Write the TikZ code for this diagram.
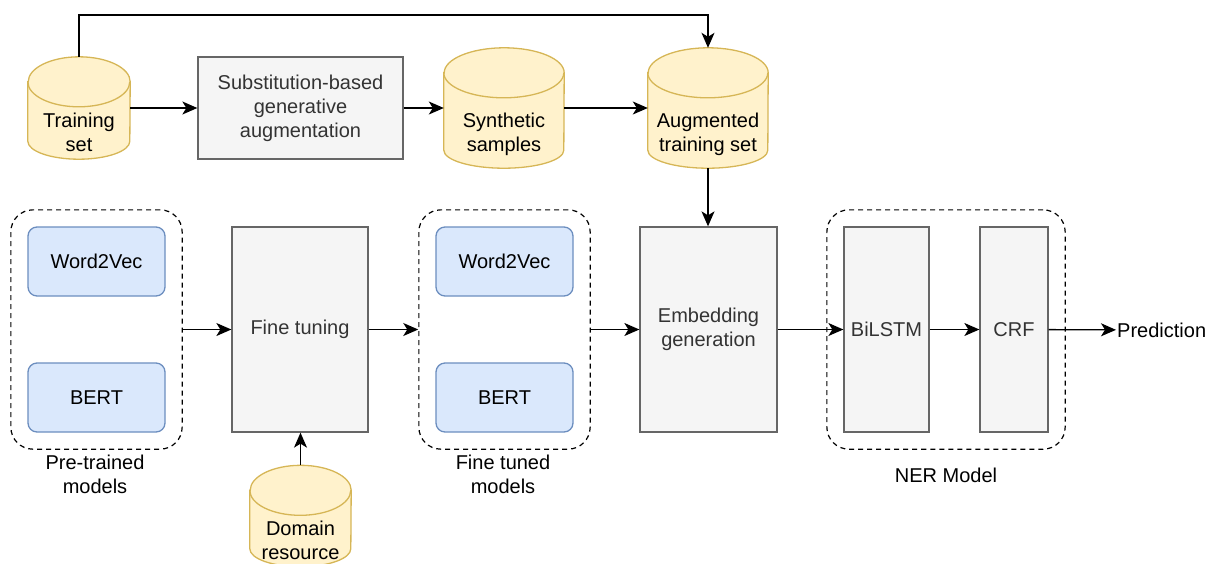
\documentclass[tikz,border=0pt]{standalone}
\usepackage{fontspec}
\setmainfont{Liberation Sans}
\usetikzlibrary{arrows.meta,fit,positioning,backgrounds}

\definecolor{dbfill}{HTML}{FFF2CC}
\definecolor{dbdraw}{HTML}{D6B656}
\definecolor{mdlfill}{HTML}{DAE8FC}
\definecolor{mdldraw}{HTML}{6C8EBF}
\definecolor{stepfill}{HTML}{F5F5F5}
\definecolor{stepdraw}{HTML}{666666}
\definecolor{steptext}{HTML}{333333}

\newcommand\dbtext[1]{\raisebox{-32pt}[0pt][0pt]{\makebox[0pt]{\begin{tabular}{@{}c@{}}#1\end{tabular}}}}

\tikzset{
  db/.style={rectangle,minimum width=#1,minimum height=#1,inner sep=0pt},
  db/.default=102pt,
  dbline/.style={draw=dbdraw,fill=dbfill,line width=1.3pt},
  stepbox/.style={rectangle,draw=stepdraw,fill=stepfill,text=steptext,line width=1.3pt,align=center},
  mdl/.style={rectangle,rounded corners=9pt,draw=mdldraw,fill=mdlfill,line width=1.3pt,
    minimum width=137pt,minimum height=69pt},
  grp/.style={rectangle,draw,line width=1.2pt,dash pattern=on 5pt off 4pt,rounded corners=22pt,inner sep=16.5pt},
  arr/.style={-{Stealth[length=15pt,width=13pt,inset=4pt]},line width=1.3pt}
}

\begin{document}
\begin{tikzpicture}[x=1pt,y=-1pt,font=\fontsize{20}{24}\selectfont]
\useasboundingbox (0,0) rectangle (1209,563);

% data and augmentation
\node[db] (train) at (79,108) {\dbtext{Training\\set}};
\node[stepbox,minimum width=205pt,minimum height=102pt] (subst) at (300.5,108)
  {Substitution-based\\generative\\augmentation};
\node[db=120pt] (synth) at (504,108) {\dbtext{Synthetic\\samples}};
\node[db=120pt] (aug) at (708,108) {\dbtext{Augmented\\training set}};
\coordinate (topbend) at (400,15);

% embeddings
\node[mdl] (w2vpre) at (96.5,261.5) {Word2Vec};
\node[mdl] (bertpre) at (96.5,397.5) {BERT};
\node[grp,fit=(w2vpre)(bertpre)] (pre) {};
\node[align=center] (prelbl) at (95,474.5) {Pre-trained\\models};

\node[stepbox,minimum width=136pt,minimum height=205pt] (fine) at (300,329.5) {Fine tuning};
\node[db=101pt] (dom) at (300.5,516) {\dbtext{Domain\\resource}};

\node[mdl] (w2vft) at (504.5,261.5) {Word2Vec};
\node[mdl] (bertft) at (504.5,397.5) {BERT};
\node[grp,fit=(w2vft)(bertft)] (tuned) {};
\node[align=center] (tunedlbl) at (503,474.5) {Fine tuned\\models};

\node[stepbox,minimum width=137pt,minimum height=205pt] (emb) at (708.5,329.5) {Embedding\\generation};

% NER model
\node[stepbox,minimum width=85pt,minimum height=205pt] (bilstm) at (886.5,329.5) {BiLSTM};
\node[stepbox,minimum width=68pt,minimum height=205pt] (crf) at (1014,329.5) {CRF};
\node[grp,fit=(bilstm)(crf)] (ner) {};
\node (nerlbl) at (946,475) {NER Model};
\node[anchor=west,inner sep=1pt] (pred) at (1116,330) {Prediction};

% cylinders behind the texts
\begin{scope}[on background layer]
\foreach \n/\r in {train/51,synth/60,aug/60,dom/50.5}
{\draw[dbline] ([yshift=-25pt]\n.north west) -- ([yshift=18pt]\n.south west)
   arc[start angle=180,end angle=360,x radius=\r pt,y radius=18pt]
   -- ([yshift=-25pt]\n.north east)
   arc[start angle=0,end angle=180,x radius=\r pt,y radius=25pt] -- cycle;
 \draw[dbline,fill=none] ([yshift=-25pt]\n.north west)
   arc[start angle=180,end angle=360,x radius=\r pt,y radius=25pt];}
\end{scope}

% connectors
\draw[arr] (train) -- (subst);
\draw[arr] (subst) -- (synth);
\draw[arr] (synth) -- (aug);
\foreach \a/\b in {pre/fine,fine/tuned,tuned/emb,emb/bilstm,bilstm/crf,crf/pred}
  \draw[arr] (\a) -- (\b);
\draw[arr] (train.north) |- (topbend) -| (aug.north);
\draw[arr] (aug.south) -- (aug.south |- emb.north);
\draw[arr] (dom.north) -- (dom.north |- fine.south);
\end{tikzpicture}
\end{document}
